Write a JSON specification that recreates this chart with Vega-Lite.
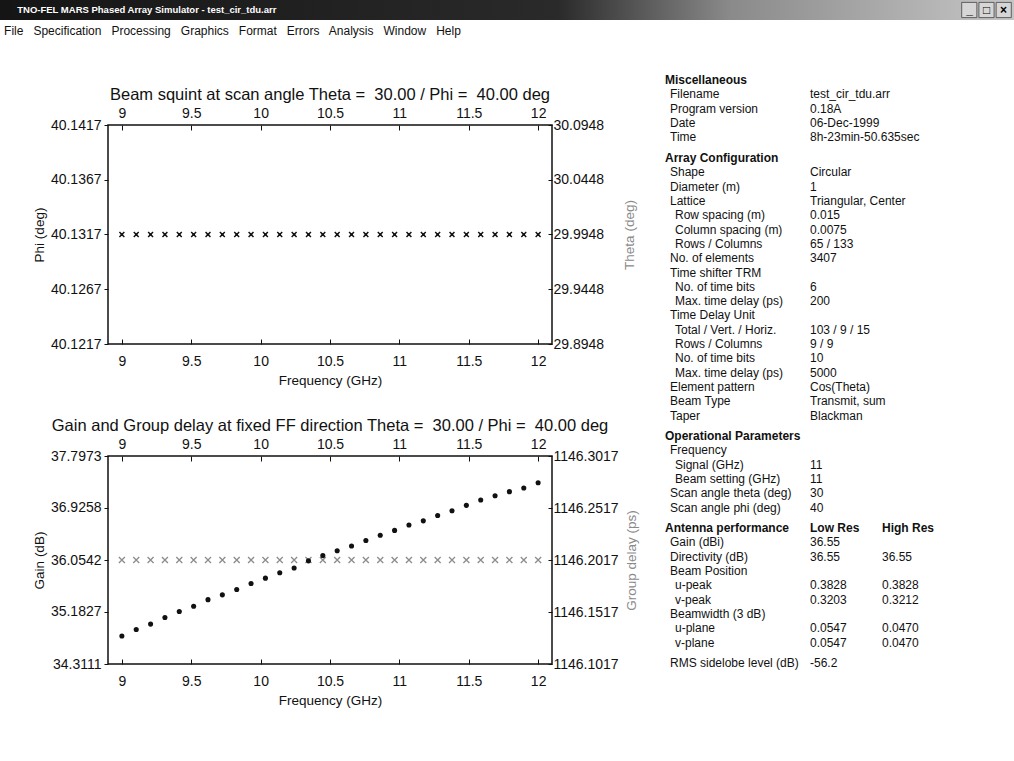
{
  "$schema": "https://vega.github.io/schema/vega-lite/v6.json",
  "background": "white",
  "padding": 0,
  "config": {
    "view": {"stroke": null},
    "font": "Liberation Sans",
    "axis": {"labelFont": "Liberation Sans", "titleFont": "Liberation Sans", "labelFontSize": 14, "titleFontSize": 13.5, "titleFontWeight": "normal", "labelColor": "#111", "titleColor": "#111", "tickColor": "#111", "domain": false, "grid": false, "labelFlush": false, "labelOverlap": false},
    "title": {"font": "Liberation Sans", "fontWeight": "normal", "color": "#111"}
  },
  "datasets": {
    "squint": [
      {"f": 9.0, "phi": 40.1317, "theta": 29.9948},
      {"f": 9.1034, "phi": 40.1317, "theta": 29.9948},
      {"f": 9.2069, "phi": 40.1317, "theta": 29.9948},
      {"f": 9.3103, "phi": 40.1317, "theta": 29.9948},
      {"f": 9.4138, "phi": 40.1317, "theta": 29.9948},
      {"f": 9.5172, "phi": 40.1317, "theta": 29.9948},
      {"f": 9.6207, "phi": 40.1317, "theta": 29.9948},
      {"f": 9.7241, "phi": 40.1317, "theta": 29.9948},
      {"f": 9.8276, "phi": 40.1317, "theta": 29.9948},
      {"f": 9.931, "phi": 40.1317, "theta": 29.9948},
      {"f": 10.0345, "phi": 40.1317, "theta": 29.9948},
      {"f": 10.1379, "phi": 40.1317, "theta": 29.9948},
      {"f": 10.2414, "phi": 40.1317, "theta": 29.9948},
      {"f": 10.3448, "phi": 40.1317, "theta": 29.9948},
      {"f": 10.4483, "phi": 40.1317, "theta": 29.9948},
      {"f": 10.5517, "phi": 40.1317, "theta": 29.9948},
      {"f": 10.6552, "phi": 40.1317, "theta": 29.9948},
      {"f": 10.7586, "phi": 40.1317, "theta": 29.9948},
      {"f": 10.8621, "phi": 40.1317, "theta": 29.9948},
      {"f": 10.9655, "phi": 40.1317, "theta": 29.9948},
      {"f": 11.069, "phi": 40.1317, "theta": 29.9948},
      {"f": 11.1724, "phi": 40.1317, "theta": 29.9948},
      {"f": 11.2759, "phi": 40.1317, "theta": 29.9948},
      {"f": 11.3793, "phi": 40.1317, "theta": 29.9948},
      {"f": 11.4828, "phi": 40.1317, "theta": 29.9948},
      {"f": 11.5862, "phi": 40.1317, "theta": 29.9948},
      {"f": 11.6897, "phi": 40.1317, "theta": 29.9948},
      {"f": 11.7931, "phi": 40.1317, "theta": 29.9948},
      {"f": 11.8966, "phi": 40.1317, "theta": 29.9948},
      {"f": 12.0, "phi": 40.1317, "theta": 29.9948}
    ],
    "gain": [
      {"f": 9.0, "gain": 34.78, "gd": 1146.2017},
      {"f": 9.1034, "gain": 34.89, "gd": 1146.2017},
      {"f": 9.2069, "gain": 34.98, "gd": 1146.2017},
      {"f": 9.3103, "gain": 35.09, "gd": 1146.2017},
      {"f": 9.4138, "gain": 35.19, "gd": 1146.2017},
      {"f": 9.5172, "gain": 35.28, "gd": 1146.2017},
      {"f": 9.6207, "gain": 35.39, "gd": 1146.2017},
      {"f": 9.7241, "gain": 35.47, "gd": 1146.2017},
      {"f": 9.8276, "gain": 35.56, "gd": 1146.2017},
      {"f": 9.931, "gain": 35.66, "gd": 1146.2017},
      {"f": 10.0345, "gain": 35.75, "gd": 1146.2017},
      {"f": 10.1379, "gain": 35.84, "gd": 1146.2017},
      {"f": 10.2414, "gain": 35.92, "gd": 1146.2017},
      {"f": 10.3448, "gain": 36.04, "gd": 1146.2017},
      {"f": 10.4483, "gain": 36.13, "gd": 1146.2017},
      {"f": 10.5517, "gain": 36.21, "gd": 1146.2017},
      {"f": 10.6552, "gain": 36.29, "gd": 1146.2017},
      {"f": 10.7586, "gain": 36.38, "gd": 1146.2017},
      {"f": 10.8621, "gain": 36.47, "gd": 1146.2017},
      {"f": 10.9655, "gain": 36.55, "gd": 1146.2017},
      {"f": 11.069, "gain": 36.64, "gd": 1146.2017},
      {"f": 11.1724, "gain": 36.71, "gd": 1146.2017},
      {"f": 11.2759, "gain": 36.8, "gd": 1146.2017},
      {"f": 11.3793, "gain": 36.88, "gd": 1146.2017},
      {"f": 11.4828, "gain": 36.97, "gd": 1146.2017},
      {"f": 11.5862, "gain": 37.06, "gd": 1146.2017},
      {"f": 11.6897, "gain": 37.13, "gd": 1146.2017},
      {"f": 11.7931, "gain": 37.2, "gd": 1146.2017},
      {"f": 11.8966, "gain": 37.26, "gd": 1146.2017},
      {"f": 12.0, "gain": 37.35, "gd": 1146.2017}
    ],
    "panel": [
      {"sec": 1, "row": 1, "lvl": 0, "kind": "h", "label": "Miscellaneous"},
      {"sec": 1, "row": 2, "lvl": 1, "label": "Filename", "val": "test_cir_tdu.arr"},
      {"sec": 1, "row": 3, "lvl": 1, "label": "Program version", "val": "0.18A"},
      {"sec": 1, "row": 4, "lvl": 1, "label": "Date", "val": "06-Dec-1999"},
      {"sec": 1, "row": 5, "lvl": 1, "label": "Time", "val": "8h-23min-50.635sec"},
      {"sec": 2, "row": 6, "lvl": 0, "kind": "h", "label": "Array Configuration"},
      {"sec": 2, "row": 7, "lvl": 1, "label": "Shape", "val": "Circular"},
      {"sec": 2, "row": 8, "lvl": 1, "label": "Diameter (m)", "val": "1"},
      {"sec": 2, "row": 9, "lvl": 1, "label": "Lattice", "val": "Triangular, Center"},
      {"sec": 2, "row": 10, "lvl": 2, "label": "Row spacing (m)", "val": "0.015"},
      {"sec": 2, "row": 11, "lvl": 2, "label": "Column spacing (m)", "val": "0.0075"},
      {"sec": 2, "row": 12, "lvl": 2, "label": "Rows / Columns", "val": "65 / 133"},
      {"sec": 2, "row": 13, "lvl": 1, "label": "No. of elements", "val": "3407"},
      {"sec": 2, "row": 14, "lvl": 1, "label": "Time shifter TRM"},
      {"sec": 2, "row": 15, "lvl": 2, "label": "No. of time bits", "val": "6"},
      {"sec": 2, "row": 16, "lvl": 2, "label": "Max. time delay (ps)", "val": "200"},
      {"sec": 2, "row": 17, "lvl": 1, "label": "Time Delay Unit"},
      {"sec": 2, "row": 18, "lvl": 2, "label": "Total / Vert. / Horiz.", "val": "103 / 9 / 15"},
      {"sec": 2, "row": 19, "lvl": 2, "label": "Rows / Columns", "val": "9 / 9"},
      {"sec": 2, "row": 20, "lvl": 2, "label": "No. of time bits", "val": "10"},
      {"sec": 2, "row": 21, "lvl": 2, "label": "Max. time delay (ps)", "val": "5000"},
      {"sec": 2, "row": 22, "lvl": 1, "label": "Element pattern", "val": "Cos(Theta)"},
      {"sec": 2, "row": 23, "lvl": 1, "label": "Beam Type", "val": "Transmit, sum"},
      {"sec": 2, "row": 24, "lvl": 1, "label": "Taper", "val": "Blackman"},
      {"sec": 3, "row": 25, "lvl": 0, "kind": "h", "label": "Operational Parameters"},
      {"sec": 3, "row": 26, "lvl": 1, "label": "Frequency"},
      {"sec": 3, "row": 27, "lvl": 2, "label": "Signal (GHz)", "val": "11"},
      {"sec": 3, "row": 28, "lvl": 2, "label": "Beam setting (GHz)", "val": "11"},
      {"sec": 3, "row": 29, "lvl": 1, "label": "Scan angle theta (deg)", "val": "30"},
      {"sec": 3, "row": 30, "lvl": 1, "label": "Scan angle phi (deg)", "val": "40"},
      {"sec": 4, "row": 31, "lvl": 0, "kind": "h", "label": "Antenna performance", "val": "Low Res", "hi": "High Res"},
      {"sec": 4, "row": 32, "lvl": 1, "label": "Gain (dBi)", "val": "36.55"},
      {"sec": 4, "row": 33, "lvl": 1, "label": "Directivity (dB)", "val": "36.55", "hi": "36.55"},
      {"sec": 4, "row": 34, "lvl": 1, "label": "Beam Position"},
      {"sec": 4, "row": 35, "lvl": 2, "label": "u-peak", "val": "0.3828", "hi": "0.3828"},
      {"sec": 4, "row": 36, "lvl": 2, "label": "v-peak", "val": "0.3203", "hi": "0.3212"},
      {"sec": 4, "row": 37, "lvl": 1, "label": "Beamwidth (3 dB)"},
      {"sec": 4, "row": 38, "lvl": 2, "label": "u-plane", "val": "0.0547", "hi": "0.0470"},
      {"sec": 4, "row": 39, "lvl": 2, "label": "v-plane", "val": "0.0547", "hi": "0.0470"},
      {"sec": 5, "row": 40, "lvl": 1, "label": "RMS sidelobe level (dB)", "val": "-56.2"}
    ]
  },
  "bounds": "flush",
  "spacing": 73,
  "vconcat": [
    {
      "bounds": "flush",
      "spacing": 4,
      "vconcat": [
        {
          "width": 1014,
          "height": 20,
          "layer": [
            {
              "data": {"values": [{}]},
              "mark": {"type": "rect", "color": {"gradient": "linear", "x1": 0, "y1": 0, "x2": 1, "y2": 0, "stops": [{"offset": 0, "color": "#151515"}, {"offset": 0.55, "color": "#2a2a2a"}, {"offset": 0.72, "color": "#8a8a8a"}, {"offset": 1, "color": "#c6c6c6"}]}},
              "encoding": {
                "x": {"datum": 0, "type": "quantitative", "scale": {"domain": [0, 1], "nice": false, "zero": false}, "axis": null},
                "x2": {"datum": 1},
                "y": {"datum": 0, "type": "quantitative", "scale": {"domain": [0, 1], "nice": false, "zero": false}, "axis": null},
                "y2": {"datum": 1}
              }
            },
            {
              "data": {"values": [{"t": "TNO-FEL MARS Phased Array Simulator - test_cir_tdu.arr"}]},
              "mark": {"type": "text", "align": "left", "baseline": "middle", "font": "Liberation Sans", "fontSize": 9.5, "fontWeight": "bold", "color": "#ffffff"},
              "encoding": {
                "x": {"datum": 0.017, "type": "quantitative", "scale": {"domain": [0, 1], "nice": false, "zero": false}, "axis": null},
                "y": {"datum": 0.5, "type": "quantitative", "scale": {"domain": [0, 1], "nice": false, "zero": false}, "axis": null},
                "text": {"field": "t"}
              }
            },
            {
              "data": {"values": [{"b": "_"}, {"b": "□"}, {"b": "×"}]},
              "mark": {"type": "rect", "color": "#d6d6d6", "stroke": "#444", "strokeWidth": 0.8},
              "encoding": {
                "x": {"field": "b", "type": "nominal", "sort": null, "scale": {"range": [961, 1012], "paddingInner": 0.12, "paddingOuter": 0.04}, "axis": null},
                "y": {"datum": 0.12, "type": "quantitative", "scale": {"domain": [0, 1], "nice": false, "zero": false}, "axis": null},
                "y2": {"datum": 0.88}
              }
            },
            {
              "data": {"values": [{"b": "_"}, {"b": "□"}, {"b": "×"}]},
              "mark": {"type": "text", "align": "center", "baseline": "middle", "fontSize": 12, "fontWeight": "bold", "color": "#000"},
              "encoding": {
                "x": {"field": "b", "type": "nominal", "sort": null, "scale": {"range": [961, 1012], "paddingInner": 0.12, "paddingOuter": 0.04}, "axis": null},
                "y": {"datum": 0.5, "type": "quantitative", "scale": {"domain": [0, 1], "nice": false, "zero": false}, "axis": null},
                "text": {"field": "b"}
              }
            }
          ],
          "resolve": {"scale": {"x": "independent"}}
        },
        {
          "width": 1014,
          "height": 14,
          "data": {"values": [{"m": "File\u00a0\u00a0 Specification\u00a0\u00a0 Processing\u00a0\u00a0 Graphics\u00a0\u00a0 Format\u00a0\u00a0 Errors\u00a0\u00a0 Analysis\u00a0\u00a0 Window\u00a0\u00a0 Help"}]},
          "mark": {"type": "text", "align": "left", "baseline": "middle", "fontSize": 12, "color": "#111"},
          "encoding": {
            "x": {"datum": 0.004, "type": "quantitative", "scale": {"domain": [0, 1], "nice": false, "zero": false}, "axis": null},
            "y": {"datum": 0.5, "type": "quantitative", "scale": {"domain": [0, 1], "nice": false, "zero": false}, "axis": null},
            "text": {"field": "m"}
          }
        }
      ]
    },
    {
      "bounds": "flush",
      "spacing": 0,
      "hconcat": [
        {
          "width": 108,
          "height": 1,
          "data": {"values": [{}]},
          "mark": {"type": "text"},
          "encoding": {"text": {"value": ""}}
        },
        {
          "bounds": "flush",
          "spacing": 557,
          "hconcat": [
            {
              "bounds": "flush",
              "spacing": 0,
              "vconcat": [
                {
                  "width": 444,
                  "height": 52,
                  "data": {"values": [{}]},
                  "mark": {"type": "text"},
                  "encoding": {"text": {"value": ""}}
                },
                {
                  "bounds": "flush",
                  "spacing": 112,
                  "vconcat": [
                    {
                      "width": 444,
                      "height": 219,
                      "data": {"name": "squint"},
                      "title": {"text": "Beam squint at scan angle Theta =\u00a0 30.00 / Phi =\u00a0 40.00 deg", "fontSize": 16.5, "frame": "group", "anchor": "middle", "offset": 3},
                      "view": {"stroke": "#111", "strokeWidth": 1.5},
                      "layer": [
                        {
                          "mark": {"type": "point", "shape": "M-1,-1L1,1M-1,1L1,-1", "filled": false, "strokeWidth": 1.5, "size": 24, "color": "#111", "opacity": 1},
                          "encoding": {
                            "x": {"field": "f", "type": "quantitative", "scale": {"domain": [8.9, 12.1], "nice": false, "zero": false}, "axis": {"orient": "bottom", "values": [9, 9.5, 10, 10.5, 11, 11.5, 12], "format": "~g", "title": "Frequency (GHz)", "tickSize": -5, "labelPadding": 15, "titlePadding": 5}},
                            "y": {"field": "phi", "type": "quantitative", "scale": {"domain": [40.1217, 40.1417], "nice": false, "zero": false}, "axis": {"orient": "left", "values": [40.1217, 40.1267, 40.1317, 40.1367, 40.1417], "format": ".4f", "title": "Phi (deg)", "tickSize": 4, "labelPadding": 3, "titlePadding": 4}}
                          }
                        },
                        {
                          "mark": {"type": "point", "shape": "circle", "filled": true, "size": 6, "color": "#111", "opacity": 1},
                          "encoding": {
                            "x": {"field": "f", "type": "quantitative", "scale": {"domain": [8.9, 12.1], "nice": false, "zero": false}, "axis": {"orient": "top", "values": [9, 9.5, 10, 10.5, 11, 11.5, 12], "format": "~g", "title": null, "tickSize": -5, "labelPadding": 10}},
                            "y": {"field": "theta", "type": "quantitative", "scale": {"domain": [29.8948, 30.0948], "nice": false, "zero": false}, "axis": {"orient": "right", "values": [29.8948, 29.9448, 29.9948, 30.0448, 30.0948], "format": ".4f", "title": "Theta (deg)", "titleColor": "#8a8a8a", "titleAngle": 270, "tickSize": -4, "labelPadding": 5, "titlePadding": 33}}
                          }
                        }
                      ],
                      "resolve": {"scale": {"y": "independent"}, "axis": {"x": "independent"}}
                    },
                    {
                      "width": 444,
                      "height": 208,
                      "data": {"name": "gain"},
                      "title": {"text": "Gain and Group delay at fixed FF direction Theta =\u00a0 30.00 / Phi =\u00a0 40.00 deg", "fontSize": 16.5, "frame": "group", "anchor": "middle", "offset": 3},
                      "view": {"stroke": "#111", "strokeWidth": 1.5},
                      "layer": [
                        {
                          "mark": {"type": "point", "shape": "M-1,-1L1,1M-1,1L1,-1", "filled": false, "strokeWidth": 1.3, "size": 36, "color": "#8c8c8c", "opacity": 1},
                          "encoding": {
                            "x": {"field": "f", "type": "quantitative", "scale": {"domain": [8.9, 12.1], "nice": false, "zero": false}, "axis": {"orient": "top", "values": [9, 9.5, 10, 10.5, 11, 11.5, 12], "format": "~g", "title": null, "tickSize": -5, "labelPadding": 10}},
                            "y": {"field": "gd", "type": "quantitative", "scale": {"domain": [1146.1017, 1146.3017], "nice": false, "zero": false}, "axis": {"orient": "right", "values": [1146.1017, 1146.1517, 1146.2017, 1146.2517, 1146.3017], "format": ".4f", "title": "Group delay (ps)", "titleColor": "#8a8a8a", "titleAngle": 270, "tickSize": -4, "labelPadding": 5, "titlePadding": 20}}
                          }
                        },
                        {
                          "mark": {"type": "point", "shape": "circle", "filled": true, "size": 26, "color": "#111", "opacity": 1},
                          "encoding": {
                            "x": {"field": "f", "type": "quantitative", "scale": {"domain": [8.9, 12.1], "nice": false, "zero": false}, "axis": {"orient": "bottom", "values": [9, 9.5, 10, 10.5, 11, 11.5, 12], "format": "~g", "title": "Frequency (GHz)", "tickSize": -5, "labelPadding": 15, "titlePadding": 5}},
                            "y": {"field": "gain", "type": "quantitative", "scale": {"domain": [34.3111, 37.7973], "nice": false, "zero": false}, "axis": {"orient": "left", "values": [34.3111, 35.1827, 36.0542, 36.9258, 37.7973], "format": ".4f", "title": "Gain (dB)", "tickSize": 4, "labelPadding": 3, "titlePadding": 4}}
                          }
                        }
                      ],
                      "resolve": {"scale": {"y": "independent"}, "axis": {"x": "independent"}}
                    }
                  ]
                }
              ]
            },
            {
              "data": {"name": "panel"},
              "bounds": "flush",
              "spacing": {"row": 6},
              "facet": {"row": {"field": "sec", "type": "ordinal", "title": null, "header": {"labels": false, "title": null, "labelPadding": 0, "titlePadding": 0}}},
              "spec": {
                "width": 300,
                "height": {"step": 14.3},
                "encoding": {"y": {"field": "row", "type": "ordinal", "axis": null, "sort": "ascending"}},
                "layer": [
                  {
                    "transform": [{"filter": "datum.kind != 'h'"}],
                    "mark": {"type": "text", "align": "left", "baseline": "middle", "fontSize": 12, "color": "#111"},
                    "encoding": {"x": {"field": "lvl", "type": "quantitative", "scale": {"domain": [0, 60], "nice": false, "zero": false}, "axis": null}, "text": {"field": "label"}}
                  },
                  {
                    "transform": [{"filter": "datum.kind == 'h'"}],
                    "mark": {"type": "text", "align": "left", "baseline": "middle", "fontSize": 12, "fontWeight": "bold", "color": "#111"},
                    "encoding": {"x": {"field": "lvl", "type": "quantitative"}, "text": {"field": "label"}}
                  },
                  {
                    "transform": [{"filter": "datum.kind != 'h' && datum.val"}],
                    "mark": {"type": "text", "align": "left", "baseline": "middle", "fontSize": 12, "color": "#111"},
                    "encoding": {"x": {"datum": 29, "type": "quantitative"}, "text": {"field": "val"}}
                  },
                  {
                    "transform": [{"filter": "datum.kind != 'h' && datum.hi"}],
                    "mark": {"type": "text", "align": "left", "baseline": "middle", "fontSize": 12, "color": "#111"},
                    "encoding": {"x": {"datum": 43.4, "type": "quantitative"}, "text": {"field": "hi"}}
                  },
                  {
                    "transform": [{"filter": "datum.kind == 'h' && datum.val"}],
                    "mark": {"type": "text", "align": "left", "baseline": "middle", "fontSize": 12, "fontWeight": "bold", "color": "#111"},
                    "encoding": {"x": {"datum": 29, "type": "quantitative"}, "text": {"field": "val"}}
                  },
                  {
                    "transform": [{"filter": "datum.kind == 'h' && datum.hi"}],
                    "mark": {"type": "text", "align": "left", "baseline": "middle", "fontSize": 12, "fontWeight": "bold", "color": "#111"},
                    "encoding": {"x": {"datum": 43.4, "type": "quantitative"}, "text": {"field": "hi"}}
                  }
                ]
              },
              "resolve": {"scale": {"y": "independent"}}
            }
          ]
        }
      ]
    }
  ]
}
